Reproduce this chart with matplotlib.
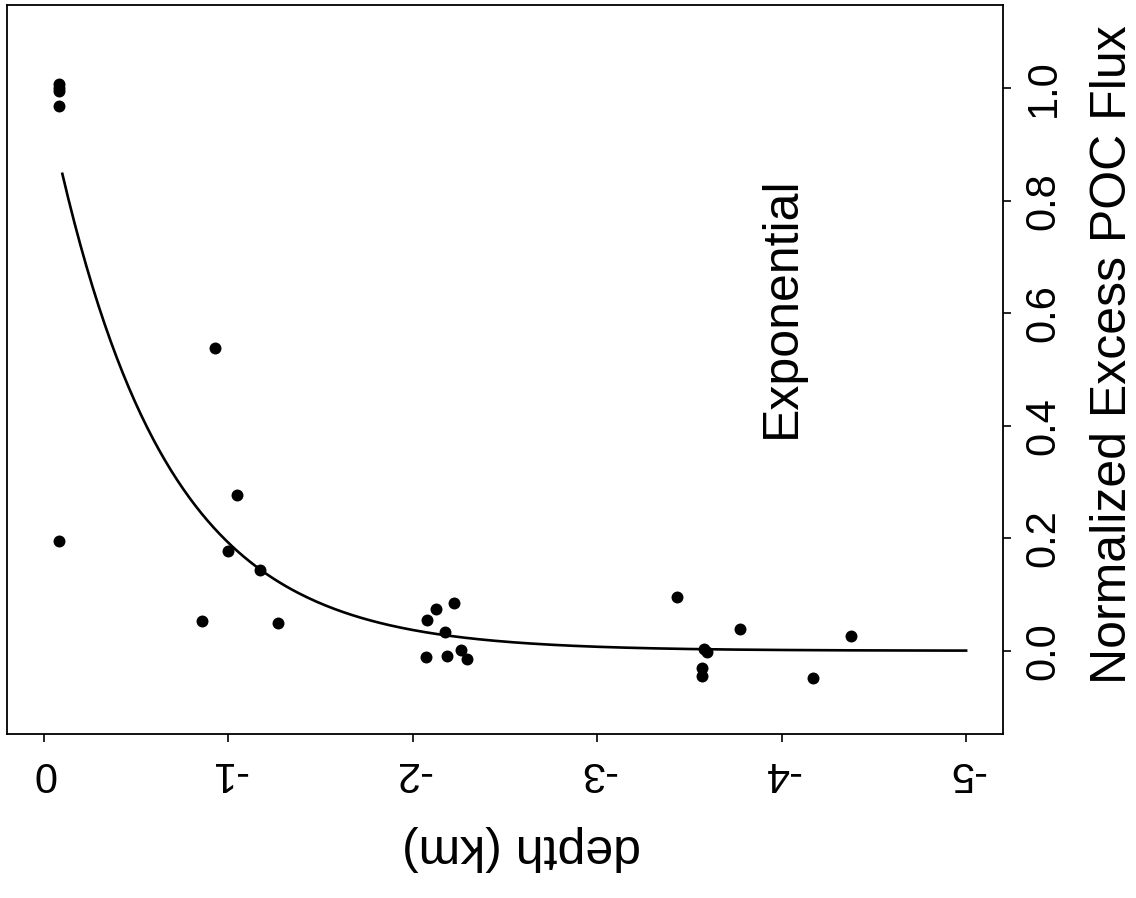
import numpy as np
import matplotlib
matplotlib.use('Agg')
import matplotlib.pyplot as plt

plt.rcParams['font.family'] = ['Liberation Sans', 'DejaVu Sans']

# Observed normalized excess POC flux vs depth (km, negative downwards)
depth_km = [-0.08, -0.08, -0.08, -0.08, -0.08,
            -0.93, -1.045, -0.996, -1.173, -0.855, -1.267,
            -2.126, -2.225, -2.077, -2.175, -2.073, -2.184, -2.26, -2.292,
            -3.434, -3.774, -3.581, -3.594, -3.57, -3.57, -4.172, -4.375]
flux_norm = [1.007, 1.0, 0.995, 0.968, 0.195,
             0.539, 0.277, 0.178, 0.144, 0.053, 0.050,
             0.074, 0.085, 0.055, 0.033, -0.011, -0.009, 0.002, -0.015,
             0.095, 0.039, 0.004, -0.003, -0.031, -0.045, -0.048, 0.027]

# Exponential fit: flux = a * exp(b * depth)
fit_a = 1.0
fit_b = 1.65
fit_range = (-0.1, -5.0)

x_ticks = [0, -1, -2, -3, -4, -5]
y_ticks = [0.0, 0.2, 0.4, 0.6, 0.8, 1.0]

W, H = 1136, 898
fig = plt.figure(figsize=(W / 100, H / 100), dpi=100)
ax = fig.add_axes([7 / W, 1 - 734 / H, (1003 - 7) / W, (734 - 5) / H])

ax.plot(depth_km, flux_norm, 'o', color='black', markersize=8.6,
        markeredgewidth=0)

zz = np.linspace(fit_range[0], fit_range[1], 300)
ax.plot(zz, fit_a * np.exp(fit_b * zz), color='black', linewidth=1.9)

ax.text(-4.0, 0.611, 'Exponential', rotation=90, fontsize=36,
        ha='center', va='center')

ax.set_xlim(0.2, -5.2)
ax.set_ylim(-0.148, 1.148)

ax.set_xticks(x_ticks)
ax.set_xticklabels([str(t) for t in x_ticks])
ax.yaxis.tick_right()
ax.set_yticks(y_ticks)
ax.set_yticklabels([f"{t:.1f}" for t in y_ticks])

ax.tick_params(axis='x', labelrotation=180, labelsize=30, length=6,
               width=1.2, pad=8)
ax.tick_params(axis='y', labelrotation=90, labelsize=30, length=6,
               width=1.2, pad=9)
tick_font = ['Liberation Sans Narrow', 'Liberation Sans']
for lab in ax.get_xticklabels():
    lab.set_family(tick_font)
for lab in ax.get_yticklabels():
    lab.set_family(tick_font)
    lab.set_verticalalignment('center')

ax.set_xlabel('depth (km)', fontsize=36, rotation=180)
ax.xaxis.set_label_coords(0.517, -0.125)
ax.yaxis.set_label_position('right')
ax.set_ylabel('Normalized Excess POC Flux', fontsize=36, rotation=90)
ax.yaxis.set_label_coords(1.087, 0.52)

for sp in ax.spines.values():
    sp.set_linewidth(1.3)
    sp.set_color('black')

fig.savefig('out.png', dpi=100)
